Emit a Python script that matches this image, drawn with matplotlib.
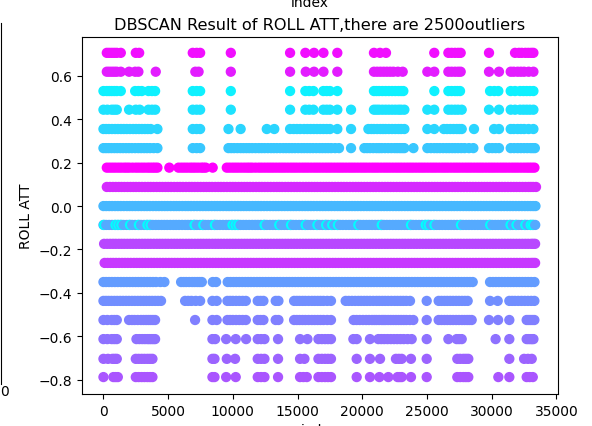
import numpy as np
import matplotlib
matplotlib.use('Agg')
import matplotlib.pyplot as plt

# roll attitude levels, top row to bottom row, with the DBSCAN cluster of each
levels = [0.706, 0.619, 0.53, 0.444, 0.355, 0.267, 0.177, 0.088, 0.0, -0.087,
          -0.174, -0.262, -0.35, -0.437, -0.525, -0.613, -0.704, -0.788]
labels = [16, 15, 0, 1, 2, 3, 17, 14, 4, 5, 12, 13, 6, 7, 8, 9, 10, 11]

row_070 = [260, 450, 644, 840, 1030, 1340, 2500, 2760, 6900, 7200, 7470, 9840, 14420, 15600, 16270, 17000,
           18070, 20900, 21370, 21830, 25560, 26650, 26900, 27160, 27400, 27600, 29790, 31800,
           32100, 32320, 32600, 32830, 33050, 33220]
row_062 = [260, 450, 650, 840, 1030, 1340, 1980, 2450, 2700, 4040, 7100, 7350, 9840, 14420, 15630, 16270, 17000,
           18070, 20900, 21150, 21400, 21650, 21900, 22150, 22400, 22750, 23120, 25025, 25560, 26650,
           26900, 27160, 27400, 27600, 29790, 30560, 31465, 31700, 32000, 32250, 32500, 32850, 33220]
row_053 = [0, 260, 450, 640, 840, 1030, 1340, 2450, 2700, 2960, 3480, 3750, 3990, 6900, 7200, 7470, 9840, 14420,
           15600, 15900, 16220, 16990, 17250, 17500, 18070, 20900, 21100, 21300, 21550, 21800, 22050,
           22300, 22550, 22800, 23000, 23170, 25565, 26650, 26900, 27160, 27350, 27550, 29870, 30200, 30510,
           31465, 31800, 32190, 32450, 32700, 32950, 33220]
row_044 = [0, 300, 640, 840, 1030, 1980, 2500, 2800, 3480, 3750, 4000, 6900, 7200, 7470, 9840, 14420, 15600,
           15900, 16220, 16990, 17250, 17500, 18070, 19130, 20900, 21100, 21300, 21550, 21800, 22050, 22300,
           22550, 22800, 23000, 23250, 25025, 25560, 26650, 26900, 27160, 27400, 27680, 29790, 30560, 31465,
           31800, 32190, 32450, 32700, 32950, 33220]
row_035 = [0, 210, 420, 660, 900, 1120, 1350, 1570, 1800, 2050, 2300, 2520, 2750, 2970, 3200, 3420, 3650, 4170,
           6900, 7200, 7470, 9660, 10600, 12620, 13200, 14420, 14700, 14950, 15200, 15500, 15750, 16000, 16250,
           16500, 16750, 17000, 17250, 17500, 18070, 19130, 20470, 20700, 20900, 21150, 21400, 21600, 21800,
           22050, 22300, 22550, 22800, 23000, 23250, 25025, 25560, 26300, 26550, 26800, 27050, 27300, 27500,
           27680, 28630, 30180, 30560, 31465, 31700, 32000, 32250, 32500, 32850, 33220]
row_0265 = [0, 200, 400, 620, 850, 1070, 1300, 1520, 1750, 1970, 2200, 2450, 2700, 2920, 3150, 3370, 3600, 3880,
            4170, 6900, 7200, 7470, 9660, 9880, 10100, 10350, 10600, 10820, 11050, 11270, 11500, 11750, 12000,
            12220, 12450, 12700, 12950, 13170, 13400, 13650, 13900, 14120, 14350, 14570, 14800, 15050, 15300,
            15520, 15750, 15970, 16200, 16450, 16700, 16920, 17150, 17370, 17600, 17900, 18200, 19130, 20160,
            20380, 20600, 20850, 21100, 21300, 21500, 21750, 22000, 22250, 22500, 22700, 22900, 23080, 23250,
            23950, 25025, 25300, 25560, 25780, 26000, 26250, 26500, 26720, 26950, 27170, 27400, 27650, 27900,
            28240, 28580, 29790, 30050, 30300, 30560, 31465, 31730, 32000, 32250, 32500, 32750, 33000, 33170, 33330]
row_018 = [260, 480, 700, 920, 1150, 1370, 1600, 1800, 2000, 2250, 2500, 2720, 2950, 3170, 3400, 3600, 3800,
           3980, 4170, 5090, 5800, 6030, 6250, 6470, 6700, 6900, 7100, 7320, 7550, 7720, 7900, 8440, 9530,
           9750, 9980, 10200, 10420, 10650, 10880, 11100, 11300, 11500, 11750, 12000, 12220, 12450, 12680,
           12900, 13120, 13350, 13580, 13800, 14020, 14250, 14480, 14700, 14920, 15150, 15380, 15600, 15820,
           16050, 16280, 16500, 16720, 16950, 17180, 17400, 17620, 17850, 18080, 18300, 18520, 18750, 18980,
           19200, 19420, 19650, 19880, 20100, 20320, 20550, 20780, 21000, 21220, 21450, 21680, 21900, 22120,
           22350, 22580, 22800, 23020, 23250, 23480, 23700, 23920, 24150, 24380, 24600, 24820, 25050, 25280,
           25500, 25720, 25950, 26180, 26400, 26620, 26850, 27080, 27300, 27520, 27750, 27980, 28200, 28420,
           28650, 28880, 29100, 29320, 29550, 29780, 30000, 30220, 30450, 30680, 30900, 31120, 31350, 31580,
           31800, 32020, 32250, 32480, 32700, 32900, 33100, 33300]
row_009 = [260, 500, 730, 950, 1180, 1400, 1620, 1860, 2090, 2310, 2520, 2750, 2980, 3210, 3440, 3650, 3870,
           4110, 4340, 4560, 4790, 5010, 5230, 5470, 5710, 5920, 6140, 6380, 6620, 6830, 7050, 7280, 7510,
           7740, 7960, 8180, 8400, 8640, 8870, 9080, 9300, 9540, 9780, 9990, 10200, 10440, 10670, 10890,
           11110, 11330, 11560, 11800, 12030, 12240, 12460, 12690, 12920, 13160, 13390, 13600, 13810, 14050,
           14280, 14510, 14740, 14960, 15180, 15420, 15650, 15870, 16090, 16310, 16530, 16770, 17000, 17220,
           17440, 17670, 17900, 18140, 18370, 18580, 18800, 19040, 19270, 19490, 19710, 19930, 20160, 20390,
           20620, 20840, 21060, 21300, 21530, 21750, 21970, 22190, 22410, 22650, 22880, 23100, 23320, 23560,
           23790, 24010, 24230, 24450, 24680, 24910, 25140, 25370, 25590, 25810, 26040, 26260, 26480, 26720,
           26950, 27170, 27390, 27620, 27850, 28090, 28320, 28540, 28760, 28990, 29220, 29440, 29660, 29880,
           30110, 30350, 30580, 30800, 31020, 31250, 31480, 31700, 31920, 32150, 32380, 32610, 32840, 33020,
           33200, 33420]
row_000 = [0, 220, 450, 670, 900, 1120, 1340, 1570, 1810, 2020, 2240, 2470, 2700, 2930, 3160, 3370, 3590, 3830,
           4060, 4280, 4510, 4730, 4950, 5190, 5430, 5640, 5860, 6100, 6340, 6550, 6770, 7000, 7230, 7460,
           7680, 7900, 8120, 8360, 8590, 8800, 9020, 9260, 9500, 9710, 9920, 10160, 10390, 10610, 10830, 11050,
           11280, 11520, 11750, 11960, 12180, 12410, 12640, 12880, 13110, 13320, 13530, 13770, 14000, 14230,
           14460, 14680, 14900, 15140, 15370, 15590, 15810, 16030, 16250, 16490, 16720, 16940, 17160, 17390,
           17620, 17860, 18090, 18300, 18520, 18760, 18990, 19210, 19430, 19650, 19880, 20110, 20340, 20560,
           20780, 21020, 21250, 21470, 21690, 21910, 22130, 22370, 22600, 22820, 23040, 23280, 23510, 23730,
           23950, 24170, 24400, 24630, 24860, 25090, 25310, 25530, 25760, 25980, 26200, 26440, 26670, 26890,
           27110, 27340, 27570, 27810, 28040, 28260, 28480, 28710, 28940, 29160, 29380, 29600, 29830, 30070,
           30300, 30520, 30740, 30970, 31200, 31420, 31640, 31870, 32100, 32330, 32560, 32780, 33000, 33200, 33380]
row_m0085 = [0, 220, 440, 660, 880, 1100, 1320, 1550, 1790, 2000, 2220, 2450, 2680, 2910, 3140, 3350, 3570, 3810,
             4040, 4260, 4490, 4710, 4930, 5170, 5410, 5620, 5840, 6080, 6320, 6530, 6750, 6980, 7210, 7440, 7660,
             7880, 8100, 8340, 8570, 8780, 9000, 9240, 9480, 9690, 9900, 10140, 10370, 10590, 10810, 11030, 11260,
             11500, 11730, 11940, 12160, 12390, 12620, 12860, 13090, 13300, 13510, 13750, 13980, 14210, 14440,
             14660, 14880, 15120, 15350, 15570, 15790, 16010, 16230, 16470, 16700, 16920, 17140, 17370, 17600,
             17840, 18070, 18280, 18500, 18740, 18970, 19190, 19410, 19630, 19860, 20090, 20320, 20540, 20760,
             21000, 21230, 21450, 21670, 21890, 22110, 22350, 22580, 22800, 23020, 23260, 23490, 23710, 23930,
             24150, 24380, 24610, 24840, 25070, 25290, 25510, 25740, 25960, 26180, 26420, 26650, 26870, 27090,
             27320, 27550, 27790, 28020, 28240, 28460, 28690, 28920, 29140, 29360, 29580, 29810, 30050, 30280,
             30500, 30720, 30950, 31180, 31400, 31620, 31850, 32080, 32310, 32540, 32760, 33000, 33180, 33360]
outliers_m0085 = [50, 930, 1150, 1380, 2050, 2740, 3400, 3640, 7040, 7710, 8610, 9970, 10200, 10420, 12450,
                  13580, 14490, 15620, 16530, 17200, 17670, 18110, 19690, 21500, 23760, 24900, 25120, 25570,
                  27620, 29880, 31450, 31910, 32590, 33010, 33190]
row_m017 = [50, 290, 520, 740, 950, 1180, 1400, 1620, 1850, 2080, 2300, 2530, 2760, 2990, 3210, 3430, 3650, 3890,
            4120, 4340, 4560, 4790, 5010, 5250, 5480, 5700, 5930, 6150, 6380, 6600, 6820, 7060, 7290, 7510, 7730,
            7960, 8180, 8420, 8650, 8870, 9090, 9320, 9550, 9770, 9990, 10210, 10440, 10670, 10900, 11120, 11350,
            11570, 11800, 12020, 12250, 12480, 12700, 12930, 13160, 13390, 13610, 13830, 14060, 14280, 14510,
            14740, 14960, 15190, 15420, 15640, 15860, 16080, 16310, 16540, 16770, 16990, 17220, 17440, 17670,
            17900, 18130, 18350, 18570, 18800, 19030, 19250, 19480, 19700, 19930, 20160, 20390, 20610, 20830,
            21060, 21290, 21510, 21740, 21960, 22190, 22410, 22640, 22870, 23100, 23320, 23550, 23770, 24000,
            24220, 24450, 24680, 24910, 25130, 25350, 25580, 25810, 26030, 26260, 26480, 26710, 26940, 27170,
            27390, 27610, 27840, 28070, 28290, 28520, 28750, 28970, 29200, 29420, 29650, 29880, 30100, 30320,
            30550, 30780, 31010, 31240, 31460, 31680, 31910, 32140, 32370, 32600, 32820, 33050, 33200, 33350]
row_m0265 = [90, 320, 550, 760, 980, 1210, 1440, 1660, 1880, 2110, 2350, 2570, 2790, 3010, 3240, 3470, 3700, 3920,
             4150, 4370, 4600, 4820, 5050, 5270, 5500, 5730, 5960, 6180, 6400, 6630, 6860, 7080, 7310, 7530, 7760,
             7990, 8220, 8440, 8670, 8890, 9120, 9350, 9580, 9800, 10020, 10250, 10480, 10700, 10930, 11150, 11380,
             11600, 11830, 12050, 12280, 12510, 12740, 12960, 13180, 13410, 13640, 13860, 14090, 14310, 14540,
             14770, 15000, 15220, 15450, 15670, 15900, 16130, 16360, 16580, 16800, 17030, 17260, 17480, 17710,
             17930, 18160, 18380, 18610, 18830, 19060, 19280, 19510, 19740, 19970, 20190, 20420, 20640, 20870,
             21100, 21330, 21550, 21770, 22000, 22230, 22450, 22680, 22900, 23130, 23350, 23580, 23810, 24040,
             24260, 24490, 24710, 24940, 25170, 25400, 25620, 25840, 26070, 26300, 26520, 26750, 26970, 27200,
             27420, 27650, 27870, 28100, 28330, 28560, 28780, 29010, 29230, 29460, 29680, 29910, 30130, 30360,
             30580, 30810, 31040, 31270, 31490, 31720, 31940, 32170, 32390, 32620, 32840, 33050, 33200, 33350]
row_m035 = [0, 210, 430, 650, 880, 1110, 1350, 1570, 1800, 2030, 2260, 2480, 2700, 2920, 3150, 3380, 3610, 3830,
            4060, 4400, 4710, 6000, 6200, 6400, 6630, 6860, 7050, 7250, 7430, 7600, 8450, 8700, 9600, 9820, 10050,
            10270, 10500, 10730, 10960, 11180, 11400, 11630, 11860, 12080, 12300, 12530, 12760, 12980, 13200, 13430,
            13660, 13900, 14150, 14370, 14600, 14820, 15050, 15270, 15500, 15730, 15960, 16180, 16400, 16630,
            16860, 17080, 17300, 17530, 17760, 17980, 18200, 18430, 18660, 18880, 19100, 19330, 19560, 19780,
            20000, 20230, 20460, 20680, 20900, 21130, 21360, 21580, 21800, 22030, 22260, 22480, 22700, 22930,
            23160, 23380, 23600, 23830, 24060, 24280, 24500, 24730, 24960, 25180, 25400, 25630, 25860, 26080,
            26300, 26530, 26760, 26980, 27200, 27430, 27660, 27880, 28100, 28320, 28530, 29870, 30100, 30320,
            30550, 30780, 31010, 31240, 31460, 31690, 31920, 32140, 32370, 32600, 32820, 33050, 33300]
row_m044 = [0, 200, 400, 620, 850, 1070, 1300, 1520, 1750, 1970, 2200, 2420, 2650, 2870, 3100, 3320, 3550, 3770,
            4000, 4220, 4450, 6310, 6550, 6800, 7130, 7470, 8420, 8750, 9580, 9790, 10000, 10250, 10500, 10750,
            11000, 11920, 12140, 12360, 13310, 13520, 14730, 14940, 15150, 15380, 15600, 15850, 16100, 16320,
            16550, 16770, 17000, 17290, 17580, 18715, 18950, 19200, 19450, 19700, 19920, 20150, 20370, 20600,
            20850, 21100, 21320, 21550, 21770, 22000, 22250, 22500, 22720, 22950, 23170, 23400, 23686, 24975,
            25900, 26120, 26350, 26570, 26800, 27020, 27250, 27470, 27700, 27920, 28140, 29870, 30460, 31360,
            31580, 31800, 32050, 32300, 32550, 32800, 33050, 33295]
row_m053 = [0, 300, 640, 840, 1030, 1980, 2200, 2400, 2650, 2900, 3100, 3300, 3480, 3650, 3820, 3990, 7080, 8420,
            8750, 9580, 9790, 10000, 10250, 10500, 10750, 11000, 11920, 12140, 12360, 13310, 13520, 14730, 14940,
            15150, 15380, 15600, 15850, 16100, 16320, 16550, 16770, 17000, 17290, 17580, 19330, 19560, 19800,
            20050, 20300, 20520, 20750, 20930, 21100, 21300, 21500, 21650, 21800, 22000, 22200, 22400, 22600,
            22800, 23000, 23200, 23400, 23670, 23940, 24975, 25900, 26120, 26350, 26570, 26800, 27020, 27250,
            27470, 27700, 27900, 28100, 28270, 28450, 29790, 30490, 31360, 32700, 32850, 33000, 33150, 33295]
row_m062 = [0, 300, 640, 840, 1030, 2550, 2780, 3000, 3200, 3400, 3550, 3700, 3850, 3990, 8420, 8630, 9480, 10220,
            11020, 11920, 12180, 12440, 13490, 15190, 15760, 16610, 16870, 17120, 17350, 17580, 19310, 19565, 20590,
            21240, 21470, 21700, 21950, 22200, 22450, 22700, 22950, 23200, 23500, 23815, 24975, 26650, 27290,
            27480, 27680, 30300, 31360, 32700, 32850, 33000, 33110, 33220]
row_m070 = [0, 350, 700, 870, 1030, 2500, 2720, 2950, 3170, 3400, 3600, 3785, 8420, 8580, 9530, 10170, 11920, 12180,
            12440, 13490, 15190, 15530, 16610, 16870, 17120, 17350, 17580, 19565, 20590, 21370, 22600, 22820, 23040,
            23760, 24975, 27340, 27570, 27810, 28000, 28190, 31360, 32500, 32800, 33090]
row_m079 = [0, 770, 940, 1110, 2500, 2720, 2950, 3170, 3400, 3600, 3785, 8420, 8580, 9480, 10220, 11920, 12180, 12440,
            13490, 15190, 15450, 15710, 16610, 16870, 17120, 17350, 17580, 19565, 20590, 21320, 22010, 22730, 22880,
            23040, 23760, 24975, 27340, 27570, 27810, 28000, 28190, 30510, 31360, 32700, 32930, 33170]

rows = [row_070, row_062, row_053, row_044, row_035, row_0265, row_018, row_009, row_000,
        row_m0085, row_m017, row_m0265, row_m035, row_m044, row_m053, row_m062, row_m070, row_m079]

xs, ys, cs = [], [], []
for level, label, row in zip(levels, labels, rows):
    xs += row
    ys += [level] * len(row)
    cs += [label] * len(row)
xs += outliers_m0085
ys += [-0.087] * len(outliers_m0085)
cs += [-1] * len(outliers_m0085)

# index order, so later points cover the earlier ones
order = np.argsort(xs, kind='stable')
xs = np.array(xs)[order]
ys = np.array(ys)[order]
cs = np.array(cs)[order]

W, H = 592, 427
fig = plt.figure(figsize=(W / 100, H / 100), dpi=100)
ax = fig.add_axes([81.7 / W, 1 - 395 / H, (558 - 81.7) / W, (395 - 38) / H])
ax.scatter(xs, ys, c=cs, cmap='cool', s=41)
ax.set_xlim(-1680, 35120)
ax.set_ylim(-0.866, 0.779)
ax.set_xlabel('index')
ax.set_ylabel('ROLL ATT')
ax.set_title('DBSCAN Result of ROLL ATT,there are 2500outliers', fontsize=11.6)

# leftovers of the neighbouring subplots
fig.text(310 / W, 1 - 7 / H, 'index', ha='center', va='baseline')
fig.text(9 / W, 1 - 396 / H, '0', ha='right', va='baseline')
fig.add_artist(plt.Line2D([1 / W, 1 / W], [1 - 24 / H, 1 - 385 / H], color='black', lw=0.8))

fig.savefig('out.png', dpi=100)
